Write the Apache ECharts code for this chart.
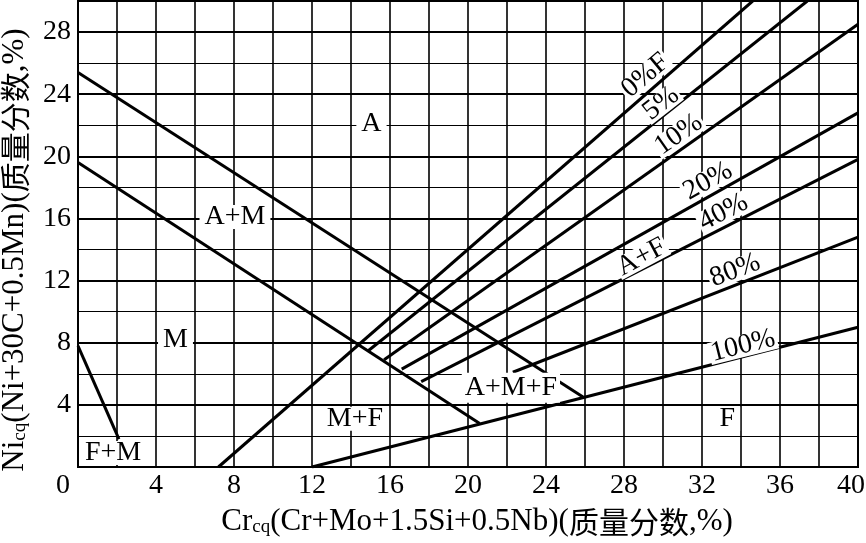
<!DOCTYPE html>
<html><head><meta charset="utf-8">
<script src="https://cdn.jsdelivr.net/npm/echarts@6/dist/echarts.min.js"></script>
<style>html,body{margin:0;padding:0;background:#fff}#c{width:866px;height:543px}</style>
</head><body><div id="c"></div>
<script>
// Boundary lines, points as [Cr_eq, Ni_eq]
const boundaryA_AM = [[0, 25.4], [25.9, 4.5]];
const boundaryAM_M = [[0, 19.6], [20.6, 2.8]];
const boundaryFM = [[0, 7.8], [2.1, 1.8]];
// Iso-ferrite lines
const ferrite0 = [[7.2, 0], [34.6, 30]];
const ferrite5 = [[14.9, 7.5], [37.4, 30]];
const ferrite10 = [[15.7, 6.9], [40, 28.5]];
const ferrite20 = [[16.6, 6.3], [40, 22.8]];
const ferrite40 = [[17.6, 5.5], [40, 19.8]];
const ferrite80 = [[22.3, 6.1], [40, 14.8]];
const ferrite100 = [[12, 0], [40, 9.0]];

// Tick labels
const xTickLabels = [0, 4, 8, 12, 16, 20, 24, 28, 32, 36, 40];
const yTickLabels = [4, 8, 12, 16, 20, 24, 28];

// Region labels and their anchor values
const regionNames = ['A', 'A+M', 'M', 'F+M', 'M+F', 'A+M+F', 'F'];
const regionX = [15.05, 8.05, 5.0, 1.8, 14.2, 22.2, 33.3];
const regionY = [22.1, 16.1, 8.2, 0.9, 3.1, 5.1, 3.1];

// Ferrite-line labels and their anchor values
const ferriteNames = ['0%F', '5%', '10%', '20%', '40%', 'A+F', '80%', '100%'];
const ferriteLabelX = [29.1, 29.9, 30.8, 32.3, 33.1, 28.9, 33.7, 34.1];
const ferriteLabelY = [25.2, 23.4, 21.4, 18.4, 16.4, 13.5, 12.65, 7.8];

// ---- styling ----
const SERIF = "'Liberation Serif', 'Times New Roman', serif";
const CJK = "'Noto Sans CJK SC', sans-serif";
const ferriteRotate = [40, 38, 35, 29, 27, 28, 21, 14];

const lineSets = [boundaryA_AM, boundaryAM_M, boundaryFM, ferrite0, ferrite5, ferrite10, ferrite20, ferrite40, ferrite80, ferrite100];

const titleRich = {
  a: { fontFamily: SERIF, fontSize: 31, lineHeight: 30, color: '#000', verticalAlign: 'bottom' },
  s: { fontFamily: SERIF, fontSize: 19, lineHeight: 12, color: '#000', verticalAlign: 'bottom' },
  c: { fontFamily: CJK, fontSize: 30, lineHeight: 30, color: '#000', verticalAlign: 'bottom' }
};

const chart = echarts.init(document.getElementById('c'), null, { renderer: 'canvas' });

const series = lineSets.map(d => ({
  type: 'line', data: d, symbol: 'none', silent: true, z: 3,
  lineStyle: { color: '#000', width: 3 }, animation: false
}));

const labelBase = {
  show: true, position: 'inside', formatter: '{b}',
  fontFamily: SERIF, fontSize: 28, color: '#000',
  textBorderWidth: 0, textBorderColor: 'transparent', opacity: 1,
  backgroundColor: '#fff'
};

series.push({
  type: 'scatter', z: 10, silent: true, symbolSize: 0,
  itemStyle: { color: '#000' },
  data: regionNames.map((n, i) => {
    const item = { name: n, value: [regionX[i], regionY[i]] };
    if (n === 'A+M+F') item.label = { padding: [3, 3, 3, 3] };
    return item;
  }),
  label: Object.assign({}, labelBase, { lineHeight: 24, padding: [0, 5] }),
  animation: false
});

series.push({
  type: 'scatter', z: 10, silent: true, symbolSize: 0,
  itemStyle: { color: '#000' },
  data: ferriteNames.map((n, i) => ({
    name: n, value: [ferriteLabelX[i], ferriteLabelY[i]],
    label: { rotate: ferriteRotate[i] }
  })),
  label: Object.assign({}, labelBase, { lineHeight: 22, padding: [0, 2] }),
  animation: false
});

chart.setOption({
  animation: false,
  backgroundColor: '#fff',
  grid: {
    left: 78, right: 8, top: 1, bottom: 76,
    show: true, borderColor: '#000', borderWidth: 2, backgroundColor: 'transparent',
    outerBoundsMode: 'none'
  },
  xAxis: {
    type: 'value', min: 0, max: 40, interval: 2,
    name: '{a|Cr}{s|cq}{a|(Cr+Mo+1.5Si+0.5Nb)(}{c|质量分数}{a|,%)}',
    nameLocation: 'middle', nameGap: 40,
    nameTextStyle: { rich: titleRich, padding: [0, 0, 0, 18] },
    axisLine: { show: true, lineStyle: { color: '#000', width: 2 } },
    axisTick: { show: false },
    axisLabel: {
      margin: 5, color: '#000', fontFamily: SERIF, fontSize: 28,
      formatter: v => {
        if (!xTickLabels.includes(v)) return '';
        if (v === 0) return '{l0|0}';
        if (v === 40) return '{l40|40}';
        return String(v);
      },
      rich: {
        l0: { fontFamily: SERIF, fontSize: 28, color: '#000', padding: [0, 30, 0, 0] },
        l40: { fontFamily: SERIF, fontSize: 28, color: '#000', padding: [0, 14, 0, 0] }
      }
    },
    splitLine: { show: true, lineStyle: { color: '#000', width: 1.6 } }
  },
  yAxis: [{
    type: 'value', min: 0, max: 30, interval: 4, position: 'left',
    name: '{a|Ni}{s|cq}{a|(Ni+30C+0.5Mn)(}{c|质量分数}{a|,%)}',
    nameLocation: 'middle', nameGap: 48, nameRotate: 90,
    nameTextStyle: { rich: titleRich, padding: [0, 32, 0, 0] },
    axisLine: { show: true, lineStyle: { color: '#000', width: 2 } },
    axisTick: { show: false },
    axisLabel: {
      margin: 7, color: '#000', fontFamily: SERIF, fontSize: 28,
      formatter: v => yTickLabels.includes(v) ? String(v) : ''
    },
    splitLine: { show: true, lineStyle: { color: '#000', width: 2 } }
  }, {
    type: 'value', min: 0, max: 30, interval: 2, position: 'left',
    axisLine: { show: false }, axisTick: { show: false }, axisLabel: { show: false },
    splitLine: { show: true, lineStyle: { color: '#000', width: 1.2 } }
  }],
  series: series
});
</script>
</body></html>
